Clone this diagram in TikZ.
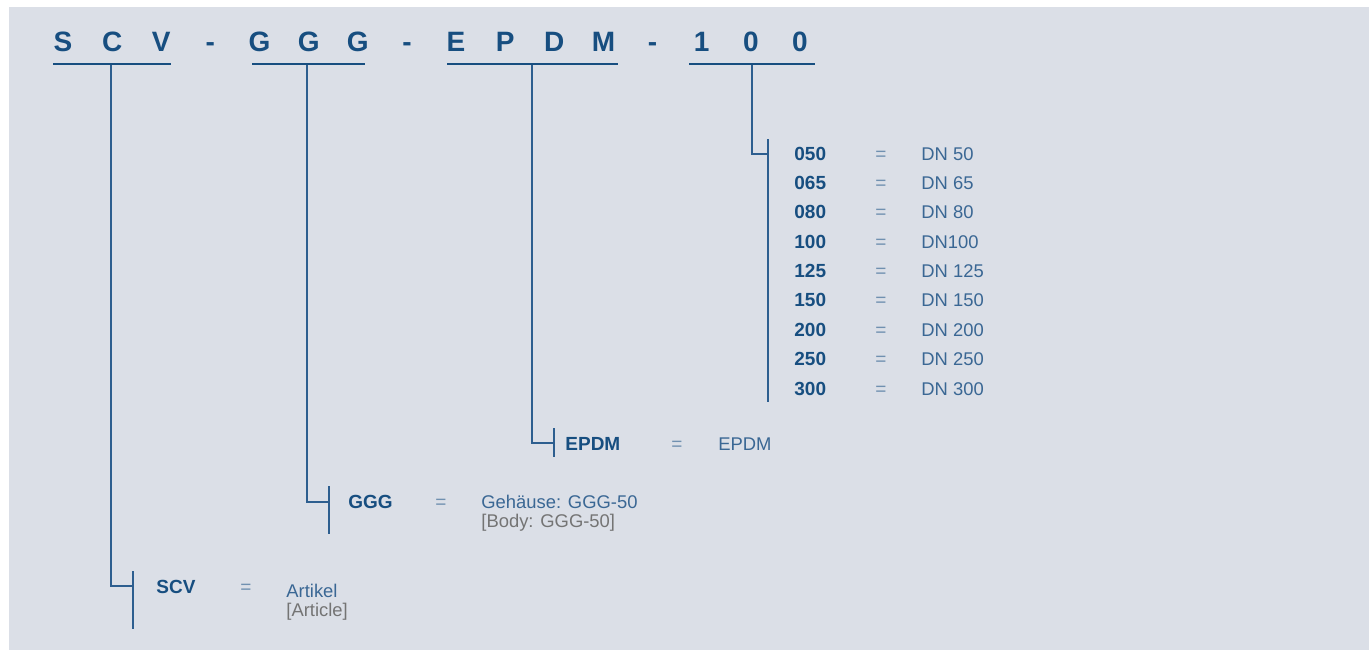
\documentclass[tikz,border=0pt]{standalone}
\usepackage{fontspec}
\setmainfont{Liberation Sans}
\definecolor{panelgray}{HTML}{DBDFE7}
\definecolor{codeblue}{HTML}{174E80}
\definecolor{lineblue}{HTML}{2D5E8F}
\definecolor{valblue}{HTML}{3A6794}
\definecolor{eqblue}{HTML}{7090B0}
\definecolor{notegray}{HTML}{747474}
\begin{document}
\begin{tikzpicture}[x=0.5pt, y=-0.5pt,
  letter/.style={anchor=base, inner sep=0pt, text=codeblue, font=\fontsize{14}{14}\selectfont\bfseries},
  key/.style={anchor=base west, inner sep=0pt, text=codeblue, font=\fontsize{9.5}{11}\selectfont\bfseries},
  eqsign/.style={anchor=base, inner sep=0pt, text=eqblue, font=\fontsize{9.5}{11}\selectfont},
  val/.style={anchor=base west, inner sep=0pt, text=valblue, font=\fontsize{9.2}{10}\selectfont},
  note/.style={val, text=notegray},
  rule/.style={codeblue, line width=1pt},
  link/.style={lineblue, line width=0.65pt}]
  \useasboundingbox (0,0) rectangle (1369,650);
  \fill[panelgray] (9,7) rectangle (1369,650);
  % Type code
  \foreach \ch [count=\i from 0] in {S,C,V,-,G,G,G,-,E,P,D,M,-,1,0,0}
    \node[letter] (c\i) at ({63+49.13*\i},51) {\ch};
  \coordinate (scv-l) at (53,64);  \coordinate (scv-r) at (171,64);
  \coordinate (ggg-l) at (252,64); \coordinate (ggg-r) at (365,64);
  \coordinate (epdm-l) at (447,64); \coordinate (epdm-r) at (618,64);
  \coordinate (dn-l) at (689,64);  \coordinate (dn-r) at (815,64);
  \draw[rule] (scv-l) -- (scv-r);
  \draw[rule] (ggg-l) -- (ggg-r);
  \draw[rule] (epdm-l) -- (epdm-r);
  \draw[rule] (dn-l) -- (dn-r);
  % Nominal size
  \coordinate (dn-top) at (752,65);  \coordinate (dn-bend) at (752,154);
  \coordinate (dn-join) at (768,154); \coordinate (dn-bar-a) at (768,139);
  \coordinate (dn-bar-b) at (768,402);
  \draw[link] (dn-top) -- (dn-bend) -- (dn-join);
  \draw[link] (dn-bar-a) -- (dn-bar-b);
  \foreach \k/\v [count=\i from 0] in {050/DN 50,065/DN 65,080/DN 80,100/DN100,125/DN 125,150/DN 150,200/DN 200,250/DN 250,300/DN 300} {
    \node[key] (dk\i) at (794,{160+29.375*\i}) {\k};
    \node[eqsign] (de\i) at (881,{160+29.375*\i}) {=};
    \node[val] (dv\i) at (921,{160+29.375*\i}) {\v};
  }
  % Seal
  \coordinate (epdm-top) at (532,65); \coordinate (epdm-bend) at (532,443);
  \coordinate (epdm-join) at (554,443); \coordinate (epdm-bar-a) at (554,428);
  \coordinate (epdm-bar-b) at (554,457);
  \draw[link] (epdm-top) -- (epdm-bend) -- (epdm-join);
  \draw[link] (epdm-bar-a) -- (epdm-bar-b);
  \node[key] (epdm-key) at (565,450) {EPDM};
  \node[eqsign] (epdm-eq) at (677,450) {=};
  \node[val] (epdm-val) at (718,450) {EPDM};
  % Body
  \coordinate (ggg-top) at (307,65); \coordinate (ggg-bend) at (307,502);
  \coordinate (ggg-join) at (329,502); \coordinate (ggg-bar-a) at (329,486);
  \coordinate (ggg-bar-b) at (329,534);
  \draw[link] (ggg-top) -- (ggg-bend) -- (ggg-join);
  \draw[link] (ggg-bar-a) -- (ggg-bar-b);
  \node[key] (ggg-key) at (348,508) {GGG};
  \node[eqsign] (ggg-eq) at (441,508) {=};
  \node[val] (ggg-val) at (481,508) {Gehäuse: GGG-50};
  \node[note] (ggg-note) at (481,527) {[Body: GGG-50]};
  % Article
  \coordinate (scv-top) at (111,65); \coordinate (scv-bend) at (111,586);
  \coordinate (scv-join) at (133,586); \coordinate (scv-bar-a) at (133,571);
  \coordinate (scv-bar-b) at (133,629);
  \draw[link] (scv-top) -- (scv-bend) -- (scv-join);
  \draw[link] (scv-bar-a) -- (scv-bar-b);
  \node[key] (scv-key) at (156,593) {SCV};
  \node[eqsign] (scv-eq) at (246,593) {=};
  \node[val] (scv-val) at (286,597) {Artikel};
  \node[note] (scv-note) at (286,616) {[Article]};
\end{tikzpicture}
\end{document}
